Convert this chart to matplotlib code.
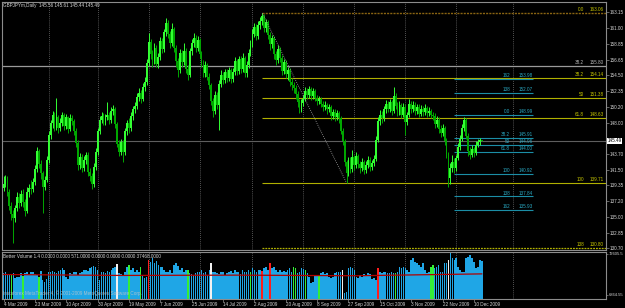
import matplotlib
matplotlib.use("Agg")
import matplotlib.pyplot as plt
import matplotlib.transforms as mtransforms

plt.rcParams["font.family"] = ["Liberation Sans", "DejaVu Sans"]

######################################################
# data (GBPJPYm, daily)
######################################################
first_open = 139.0
closes = [139.6, 140.3, 138.4, 136.5, 135.4, 134.9, 136.2, 137.8, 136.9, 138.2,
          137.1, 135.9, 138.4, 139.0, 138.9, 139.8, 141.6, 144.1, 142.3, 141.0,
          139.2, 140.1, 142.9, 146.3, 147.9, 149.1, 147.4, 148.8, 147.2, 148.0,
          149.0, 147.5, 148.7, 147.1, 148.6, 148.2, 146.9, 145.2, 142.1, 143.3,
          141.8, 142.9, 143.6, 141.2, 140.6, 139.6, 141.9, 143.9, 146.8, 148.4,
          148.9, 148.1, 148.8, 149.0, 148.3, 149.6, 149.9, 147.8, 145.1, 144.0,
          145.3, 143.9, 146.8, 147.9, 147.2, 148.9, 149.8, 150.3, 151.5, 152.1,
          151.3, 152.9, 153.6, 156.2, 159.1, 157.4, 156.5, 158.3, 156.1, 157.0,
          159.2, 158.1, 160.4, 161.7, 160.2, 158.9, 160.8, 158.3, 156.4, 155.2,
          157.6, 156.3, 157.9, 155.4, 154.6, 157.8, 158.9, 159.6, 158.2, 159.3,
          157.4, 156.2, 154.8, 155.9, 154.3, 153.1, 151.0, 149.6, 151.8, 150.4,
          153.3, 154.6, 153.8, 154.9, 154.1, 155.2, 154.0, 155.0, 156.4, 155.1,
          156.7, 155.4, 156.9, 154.8, 155.9, 157.6, 158.8, 160.2, 161.1, 159.9,
          161.4, 161.9, 162.6, 161.0, 161.8, 160.1, 158.8, 159.6, 157.4, 156.6,
          158.1, 156.9, 155.1, 156.3, 154.7, 155.2, 153.6, 153.1, 152.7, 151.9,
          150.8, 149.9, 150.7, 151.3, 152.4, 151.8, 152.6, 151.6, 152.3, 151.4,
          150.9, 151.2, 150.6, 150.1, 150.4, 149.8, 150.1, 148.9, 149.5, 148.7,
          149.3, 148.6, 146.9, 145.4, 142.6, 141.1, 142.8, 141.6, 143.2, 142.1,
          143.4, 142.3, 141.7, 142.6, 141.5, 142.2, 142.9, 141.9, 142.4, 143.0,
          145.6, 148.2, 149.1, 148.6, 149.8, 150.6, 149.9, 150.8, 149.6, 151.7,
          150.3, 149.5, 150.4, 149.1, 150.2, 148.1, 149.0, 150.6, 149.8, 150.4,
          149.6, 150.1, 149.2, 149.9, 149.4, 150.0, 149.3, 149.6, 149.1, 148.9,
          147.8, 148.4, 147.1, 146.6, 147.2, 145.5, 143.7, 140.4, 141.8, 142.6,
          141.7, 143.1, 144.6, 145.8, 147.3, 148.4, 146.2, 144.1, 143.6, 144.4,
          143.8, 144.9, 145.3, 145.56, 145.49]
highs = [140.7, 140.8, 140.6, 138.8, 137.1, 136.0, 136.7, 138.5, 138.3, 138.7,
         138.9, 137.5, 139.1, 139.6, 140.1, 140.4, 142.2, 144.6, 144.4, 142.8,
         141.4, 140.7, 143.4, 146.9, 148.4, 149.6, 149.4, 151.4, 149.1, 148.6,
         149.4, 149.3, 149.2, 148.9, 149.2, 149.0, 148.5, 147.3, 145.6, 143.8,
         143.7, 143.4, 144.0, 143.9, 141.8, 141.0, 142.4, 144.5, 147.3, 148.9,
         149.4, 149.3, 149.2, 150.8, 149.4, 150.1, 150.4, 150.2, 148.1, 145.6,
         145.8, 145.6, 147.2, 148.4, 148.6, 149.4, 150.3, 150.8, 152.0, 152.7,
         152.5, 153.4, 154.2, 156.8, 160.3, 159.5, 158.0, 158.9, 158.6, 157.6,
         159.8, 159.6, 160.9, 162.4, 162.1, 160.6, 161.7, 161.1, 158.7, 156.9,
         158.1, 158.0, 158.9, 158.2, 155.9, 158.3, 159.5, 160.3, 160.0, 159.9,
         159.6, 157.8, 156.6, 156.5, 156.2, 154.8, 153.5, 151.4, 152.3, 152.2,
         153.8, 155.2, 155.0, 155.3, 155.4, 155.6, 155.5, 155.5, 157.0, 156.8,
         157.2, 157.1, 157.5, 157.2, 156.4, 158.1, 159.3, 160.8, 161.7, 161.5,
         162.0, 162.5, 163.06, 162.9, 162.3, 162.1, 160.5, 160.1, 159.9, 157.9,
         158.6, 158.4, 157.3, 156.8, 156.6, 155.7, 155.5, 154.1, 153.6, 153.1,
         152.3, 151.2, 151.2, 151.8, 152.9, 152.8, 153.0, 152.9, 152.7, 152.6,
         151.8, 151.7, 151.5, 151.0, 150.9, 150.7, 150.6, 150.4, 149.9, 149.8,
         149.7, 149.6, 148.9, 147.3, 145.7, 142.9, 143.3, 143.2, 144.2, 143.6,
         143.9, 143.7, 142.7, 143.1, 142.9, 142.7, 143.4, 143.2, 142.9, 143.5,
         146.1, 148.8, 149.7, 149.6, 150.3, 151.1, 151.0, 151.3, 151.1, 152.9,
         152.0, 150.8, 150.9, 150.7, 150.7, 150.5, 149.5, 151.2, 151.0, 150.9,
         150.8, 150.6, 150.5, 150.4, 150.3, 150.5, 150.3, 150.1, 149.9, 149.5,
         149.3, 148.9, 148.7, 147.6, 147.8, 147.5, 145.9, 144.0, 142.4, 143.5,
         143.1, 143.6, 145.2, 146.3, 147.8, 148.8, 148.6, 146.5, 144.6, 144.9,
         144.7, 145.4, 145.8, 145.9, 145.61]
lows = [138.6, 139.1, 137.9, 136.0, 134.6, 131.4, 134.3, 135.8, 136.2, 136.5,
        136.4, 135.2, 135.6, 137.8, 138.2, 138.5, 139.4, 141.2, 141.8, 140.3,
        135.6, 138.7, 139.8, 142.5, 145.8, 147.3, 146.8, 147.0, 146.6, 146.8,
        147.5, 147.0, 147.1, 146.6, 146.8, 147.6, 146.3, 144.6, 141.5, 141.6,
        141.2, 141.4, 142.3, 140.7, 140.0, 138.8, 139.2, 141.5, 143.6, 146.4,
        147.9, 147.6, 147.7, 148.4, 147.8, 148.0, 149.1, 147.3, 144.6, 143.4,
        143.6, 142.6, 143.5, 146.3, 146.6, 146.9, 148.4, 149.3, 149.9, 151.0,
        150.7, 150.9, 152.4, 153.2, 155.8, 156.8, 155.7, 156.0, 155.6, 155.5,
        156.6, 157.5, 157.7, 159.9, 159.6, 158.3, 158.5, 157.7, 155.6, 154.3,
        154.8, 155.7, 155.9, 154.8, 153.8, 154.2, 157.3, 158.4, 157.7, 157.8,
        156.9, 155.6, 154.2, 154.3, 153.8, 152.6, 150.4, 148.8, 149.2, 149.8,
        147.0, 152.9, 153.3, 153.4, 153.6, 153.7, 153.5, 153.6, 154.6, 154.6,
        154.7, 154.8, 155.0, 154.3, 154.3, 155.5, 157.1, 158.4, 159.7, 159.3,
        159.5, 160.9, 161.4, 160.4, 160.5, 159.5, 158.0, 158.3, 156.8, 155.9,
        156.2, 156.3, 154.5, 154.7, 154.1, 153.9, 153.0, 152.5, 152.1, 151.3,
        150.2, 149.3, 149.5, 150.3, 150.9, 151.3, 151.4, 151.1, 151.2, 150.9,
        150.4, 150.5, 150.1, 149.6, 149.7, 149.2, 149.4, 148.4, 148.5, 148.2,
        148.3, 148.0, 146.4, 144.9, 142.0, 139.71, 140.6, 141.0, 141.2, 141.5,
        141.7, 141.7, 141.1, 141.3, 140.9, 141.0, 141.8, 141.3, 141.5, 142.0,
        142.7, 145.3, 147.7, 148.0, 148.2, 149.3, 149.4, 149.5, 149.1, 149.3,
        149.8, 148.9, 149.1, 148.6, 148.7, 146.3, 147.6, 148.7, 149.3, 149.4,
        149.1, 149.2, 148.8, 148.9, 148.9, 149.0, 148.8, 148.9, 148.6, 148.3,
        147.3, 147.4, 146.6, 146.0, 146.2, 144.9, 143.1, 139.1, 139.6, 141.2,
        141.0, 141.3, 142.8, 144.2, 145.4, 146.9, 145.7, 143.4, 143.0, 143.2,
        143.3, 143.5, 144.6, 144.9, 145.44]
opens = [first_open] + closes[:-1]

# Better Volume histogram (thousands)
volume_k = [41.6, 43.0, 40.0, 39.5, 38.9, 42.0, 33.6, 34.8, 36.2, 41.6,
            37.0, 42.6, 43.9, 41.0, 44.2, 42.9, 40.5, 38.9, 36.2, 44.8,
            30.9, 28.0, 31.5, 44.2, 42.9, 45.5, 44.2, 41.6, 44.8, 46.9,
            49.6, 47.5, 36.2, 31.8, 41.6, 40.3, 44.2, 42.9, 38.9, 41.6,
            44.2, 46.2, 46.9, 45.5, 49.6, 50.9, 53.5, 52.2, 47.5, 30.9,
            42.9, 44.2, 41.6, 44.8, 43.5, 46.9, 49.6, 52.2, 55.8, 41.6,
            40.3, 38.9, 42.9, 52.2, 55.0, 47.5, 49.6, 44.2, 46.9, 42.9,
            50.9, 38.9, 33.6, 36.2, 63.0, 60.3, 65.6, 57.6, 61.6, 55.0,
            50.9, 52.2, 47.5, 44.2, 42.9, 46.9, 41.6, 55.0, 57.6, 53.5,
            46.9, 49.6, 44.2, 46.9, 46.9, 41.6, 40.3, 38.9, 41.6, 44.2,
            42.9, 46.9, 41.6, 44.2, 38.9, 46.9, 57.6, 44.2, 42.9, 41.6,
            40.3, 42.9, 44.2, 38.9, 41.6, 44.2, 45.5, 41.6, 46.9, 42.9,
            44.2, 40.3, 46.9, 42.9, 44.2, 47.5, 44.2, 49.6, 46.9, 44.2,
            47.5, 46.9, 45.5, 49.6, 52.2, 46.9, 57.6, 49.6, 52.2, 46.9,
            44.2, 46.9, 42.9, 45.5, 44.2, 46.9, 49.6, 44.2, 52.2, 49.6,
            41.6, 44.2, 49.6, 48.2, 47.5, 41.6, 36.2, 25.6, 27.0, 38.9,
            38.9, 38.9, 41.6, 44.2, 40.3, 41.6, 36.2, 33.6, 34.8, 41.6,
            44.2, 42.9, 44.2, 46.2, 9.6, 12.0, 49.6, 50.9, 49.6, 47.5,
            36.2, 33.6, 38.9, 36.2, 40.3, 38.9, 41.6, 40.3, 31.8, 33.6,
            30.9, 49.6, 44.2, 41.6, 42.9, 44.2, 41.6, 41.6, 42.9, 41.6,
            41.6, 44.2, 52.2, 49.6, 52.2, 49.6, 47.5, 44.2, 63.0, 65.6,
            60.3, 57.6, 55.0, 52.2, 57.6, 46.9, 41.6, 44.2, 52.2, 55.0,
            49.6, 52.2, 55.0, 44.2, 42.9, 57.6, 57.6, 63.0, 73.7, 65.6,
            63.0, 65.6, 52.2, 47.5, 42.9, 44.2, 65.6, 68.2, 71.0, 65.6,
            60.3, 49.6, 52.2, 63.0, 62.0]
green_vol_bars = [4, 10, 18, 64, 70, 94, 126, 148, 149, 154, 161, 200, 218, 219]
red_vol_bars = [74, 132, 136, 191]
white_vol_bars = [58, 106, 173, 227]
ma_bars = [0, 60, 120, 180, 244]
ma_vals = [39.5, 38.0, 38.5, 37.5, 40.5]

assert len(closes) == len(highs) == len(lows) == len(volume_k)

# axis labels
price_ticks = [163.15, 161.00, 158.85, 156.65, 154.50, 152.35, 150.20, 148.00,
               143.70, 141.50, 139.35, 137.20, 135.00, 132.85, 130.70]
date_labels = ['4 Mar 2009', '23 Mar 2009', '10 Apr 2009', '30 Apr 2009',
               '19 May 2009', '7 Jun 2009', '25 Jun 2009', '14 Jul 2009',
               '2 Aug 2009', '20 Aug 2009', '8 Sep 2009', '27 Sep 2009',
               '15 Oct 2009', '3 Nov 2009', '22 Nov 2009', '10 Dec 2009']
month_start_bars = [23, 48, 74, 100, 127, 153, 179, 205, 231, 260]
vol_ticks = [72.6055, 6.86455]
vol_tick_labels = ['72605.5', '6864.55']

# fibonacci objects
fib_levels = ['0.0', '38.2', '50', '61.8', '100', '138']
fib_prices = [163.06, 154.14, 151.38, 148.63, 139.71, 130.80]
fib_start, fib_end = 132, 175          # high bar, low bar
hline_price = 155.80
hline_level = '38.2'
fib2_levels = ['162', '138', '0.0', '38.2', '50', '61.8', '100', '138', '162']
fib2_prices = [153.98, 152.07, 148.99, 145.91, 144.96, 144.00, 140.92, 137.84, 135.93]
fib2_start, fib2_end = 230, 270

title = 'GBPJPYm,Daily  145.56 145.61 145.44 145.49'
last_close = 145.49
vol_title = ('Better Volume 1.4 0.0000 0.0000 571.0000 0.0000 0.0000 0.0000 '
             '37468.0000')
copyright_txt = 'Instaforex MetaTrader 4, \u00a9 2001-2009 MetaQuotes Software Corp.'

######################################################
# figure
######################################################
W, H = 625, 308
fig = plt.figure(figsize=(W / 100, H / 100), dpi=100, facecolor='black')

def fbox(x0, y0, x1, y1):
    return [x0 / W, 1 - y1 / H, (x1 - x0) / W, (y1 - y0) / H]

ax = fig.add_axes(fbox(2, 2, 606, 250))
axv = fig.add_axes(fbox(2, 252, 606, 299))

bar_px = 1.96
x_left = (2 - 3.5) / bar_px
x_right = (606 - 3.5) / bar_px
fs = 3.3
txt_col = '#d4d4d4'
frame_col = '#8c8c8c'

for a in (ax, axv):
    a.set_facecolor('black')
    a.set_xlim(x_left, x_right)
    for s in a.spines.values():
        s.set_color(frame_col)
        s.set_linewidth(0.8)
    for b in month_start_bars:
        a.axvline(b, color='#6e6e6e', lw=0.6, ls=(0, (1, 1.5)), zorder=0)

idx = list(range(len(closes)))

# candles
bull = '#33ff33'
bear = '#00a800'
cols = [bull if c >= o else bear for o, c in zip(opens, closes)]
ax.vlines(idx, lows, highs, colors=cols, lw=0.7, zorder=3)
bottoms = [min(o, c) for o, c in zip(opens, closes)]
heights = [max(abs(c - o), 0.08) for o, c in zip(opens, closes)]
ax.bar(idx, heights, bottom=bottoms, width=0.9, color=cols, lw=0, zorder=3)

ax.set_ylim(130.47, 164.57)
ax.yaxis.tick_right()
ax.set_yticks(price_ticks)
ax.set_yticklabels(['%.2f' % p for p in price_ticks])
ax.tick_params(axis='y', colors=frame_col, labelcolor=txt_col, labelsize=fs,
               length=2, width=0.5, pad=1)
ax.set_xticks([])

# horizontal lines
ax.axhline(hline_price, color='#9a9a9a', lw=0.9, zorder=2)
ax.axhline(last_close, color='#5e5e5e', lw=0.8, zorder=2)

# big fibonacci (yellow)
yel = '#b0b000'
for lev, p in zip(fib_levels, fib_prices):
    if lev == '0.0':
        ax.hlines(p, fib_start, x_right, colors='#8a6512', lw=1.0, ls=(0, (1.5, 0.8)), zorder=2)
    elif lev == '138':
        ax.hlines(p, fib_start, x_right, colors=yel, lw=0.9, ls=(0, (1.5, 0.8)), zorder=2)
    else:
        ax.hlines(p, fib_start, x_right, colors=yel, lw=0.8, zorder=2)
    ax.text((584 - 3.5) / bar_px, p + 0.12, lev, color='#c8c800', fontsize=fs,
            ha='right', va='bottom', zorder=5)
    ax.text((604 - 3.5) / bar_px, p + 0.12, '%.2f' % p, color='#c8c800', fontsize=fs,
            ha='right', va='bottom', zorder=5)
ax.text((584 - 3.5) / bar_px, hline_price + 0.12, hline_level, color='#b8b8b8',
        fontsize=fs, ha='right', va='bottom', zorder=5)
ax.text((604 - 3.5) / bar_px, hline_price + 0.12, '%.2f' % hline_price, color='#b8b8b8',
        fontsize=fs, ha='right', va='bottom', zorder=5)
ax.plot([fib_start, fib_end], [fib_prices[0], fib_prices[4]], color='#a8a8a8',
        lw=0.6, ls=(0, (1, 1.5)), zorder=4)

# small fibonacci (cyan)
cy = '#1b8ea6'
for lev, p in zip(fib2_levels, fib2_prices):
    ax.hlines(p, fib2_start, fib2_end, colors=cy, lw=0.8, zorder=2)
    ax.text((510 - 3.5) / bar_px, p + 0.12, lev, color='#2aaac4', fontsize=fs,
            ha='right', va='bottom', zorder=5)
    ax.text(fib2_end, p + 0.12, '%.2f' % p, color='#2aaac4', fontsize=fs,
            ha='right', va='bottom', zorder=5)

# current price box
trans = mtransforms.blended_transform_factory(ax.transAxes, ax.transData)
ax.text(1.002, last_close, '%.2f' % last_close, transform=trans, fontsize=fs,
        color='black', ha='left', va='center', zorder=6,
        bbox=dict(boxstyle='square,pad=0.15', fc='white', ec='white', lw=0))

fig.text(3 / W, 1 - 5 / H, title, color=txt_col, fontsize=fs, va='center', ha='left')

# volume pane
vcols = []
for i in idx:
    if i in green_vol_bars:
        vcols.append('#35ee35')
    elif i in red_vol_bars:
        vcols.append('#ff1e1e')
    elif i in white_vol_bars:
        vcols.append('#f2f2f2')
    else:
        vcols.append('#1fa6e6')
axv.bar(idx, volume_k, width=0.8, color=vcols, lw=0, zorder=2)
axv.plot(ma_bars, ma_vals, color='#b00000', lw=0.9, zorder=3)
axv.set_ylim(0, 75.8)
axv.yaxis.tick_right()
axv.set_yticks(vol_ticks)
axv.set_yticklabels(vol_tick_labels)
axv.tick_params(axis='y', colors=frame_col, labelcolor=txt_col, labelsize=3.0,
                length=1.5, width=0.5, pad=0.5)
axv.set_xticks(list(range(0, 16 * len(date_labels), 16)))
axv.set_xticklabels(date_labels, ha='left')
axv.tick_params(axis='x', colors=frame_col, labelcolor=txt_col, labelsize=fs,
                length=2, width=0.5, pad=0.5)

fig.text(3 / W, 1 - 256 / H, vol_title, color=txt_col, fontsize=fs, va='center', ha='left')
fig.text(3 / W, 1 - 293 / H, copyright_txt, color='#c8c8c8', fontsize=fs,
         va='center', ha='left', alpha=0.8)

fig.savefig('out.png', dpi=100, facecolor='black')
